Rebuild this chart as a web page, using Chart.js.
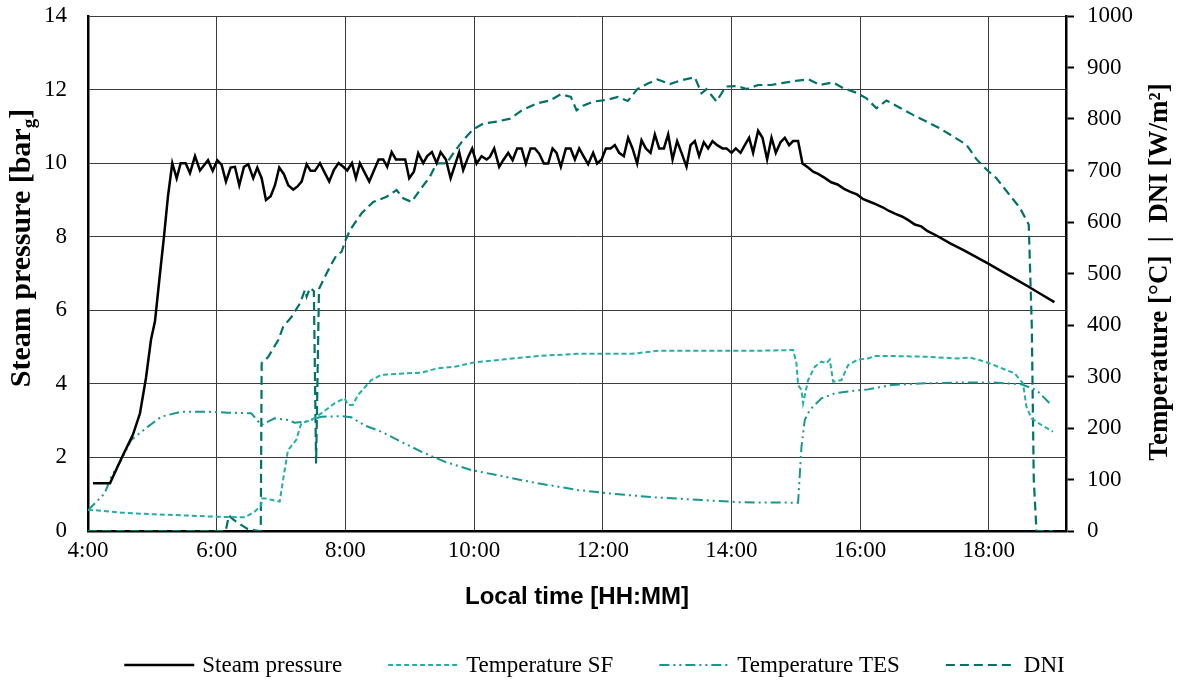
<!DOCTYPE html>
<html lang="en">
<head>
    <meta charset="UTF-8">
    <title>Steam pressure, temperatures and DNI</title>
    <script src="https://cdn.jsdelivr.net/npm/chart.js"></script>
    <style>
        html, body {
            margin: 0;
            padding: 0;
            background: #fff;
        }

        .chart-box {
            width: 1177px;
            height: 681px;
        }
    </style>
</head>
<body>
<div class="chart-box">
    <canvas id="plantChart" width="1177" height="681"></canvas>
</div>

<script>
    // times are local time in decimal hours
    const xTickHours = [4, 6, 8, 10, 12, 14, 16, 18];

    const timeSteam = [
        4.078, 4.342, 4.513, 4.699, 4.808, 4.901, 4.979, 5.041, 5.119, 5.181, 5.243, 5.310,
        5.378, 5.440, 5.518, 5.585, 5.663, 5.740, 5.865, 5.938, 6.009, 6.077,
        6.144, 6.217, 6.284, 6.351, 6.424, 6.491, 6.568, 6.631, 6.699, 6.766,
        6.839, 6.906, 6.972, 7.045, 7.112, 7.190, 7.252, 7.320, 7.398, 7.460,
        7.527, 7.605, 7.682, 7.749, 7.822, 7.895, 7.967, 8.029, 8.102, 8.164,
        8.226, 8.304, 8.371, 8.444, 8.517, 8.588, 8.650, 8.719, 8.786, 8.859,
        8.930, 8.992, 9.065, 9.132, 9.210, 9.272, 9.345, 9.418, 9.480, 9.562,
        9.636, 9.769, 9.831, 9.909, 9.971, 10.039, 10.117, 10.195, 10.246, 10.313,
        10.391, 10.453, 10.531, 10.599, 10.670, 10.739, 10.805, 10.878, 10.945, 11.012,
        11.085, 11.152, 11.220, 11.282, 11.349, 11.427, 11.500, 11.567, 11.634, 11.707,
        11.773, 11.851, 11.913, 11.982, 12.049, 12.122, 12.188, 12.255, 12.328, 12.395,
        12.463, 12.535, 12.603, 12.670, 12.743, 12.810, 12.877, 12.950, 13.017, 13.085,
        13.156, 13.225, 13.302, 13.365, 13.431, 13.498, 13.571, 13.638, 13.706, 13.778,
        13.862, 13.924, 14.002, 14.068, 14.142, 14.208, 14.275, 14.337, 14.415, 14.483,
        14.555, 14.623, 14.690, 14.763, 14.830, 14.897, 14.959, 15.036, 15.105, 15.192,
        15.270, 15.347, 15.45, 15.55, 15.65, 15.75, 15.85, 15.95, 16.05, 16.15,
        16.25, 16.35, 16.45, 16.55, 16.65, 16.75, 16.85, 16.95, 17.05, 17.2,
        17.4, 17.6, 17.8, 18.0, 18.2, 18.4, 18.6, 18.8, 19.02
    ];
    const steamPressure = [
        1.30, 1.30, 1.95, 2.62, 3.2, 4.16, 5.2, 5.7, 7.0, 8.0, 9.1, 10.0,
        9.59, 10.0, 10.0, 9.73, 10.19, 9.8, 10.08, 9.79, 10.08, 9.95,
        9.5, 9.88, 9.9, 9.4, 9.9, 9.97, 9.59, 9.88, 9.59, 9.0,
        9.1, 9.4, 9.88, 9.7, 9.4, 9.28, 9.36, 9.5, 9.97, 9.79,
        9.79, 10.0, 9.73, 9.5, 9.82, 10.0, 9.9, 9.8, 10.0, 9.59,
        10.0, 9.73, 9.5, 9.8, 10.1, 10.1, 9.9, 10.3, 10.1, 10.1,
        10.1, 9.59, 9.77, 10.27, 10.0, 10.19, 10.3, 10.0, 10.3, 10.1,
        9.59, 10.3, 9.81, 10.17, 10.4, 9.99, 10.19, 10.1, 10.17, 10.4,
        9.9, 10.08, 10.28, 10.08, 10.4, 10.4, 9.99, 10.4, 10.4, 10.26,
        9.99, 9.99, 10.4, 10.28, 9.9, 10.4, 10.4, 10.1, 10.4, 10.17,
        9.97, 10.28, 9.99, 10.1, 10.4, 10.4, 10.49, 10.28, 10.19, 10.69,
        10.4, 9.99, 10.62, 10.4, 10.28, 10.78, 10.4, 10.4, 10.78, 10.1,
        10.6, 10.28, 9.9, 10.49, 10.6, 10.19, 10.57, 10.4, 10.6, 10.49,
        10.4, 10.4, 10.28, 10.4, 10.28, 10.49, 10.69, 10.28, 10.88, 10.69,
        10.1, 10.69, 10.28, 10.57, 10.69, 10.49, 10.6, 10.6, 9.99, 9.88,
        9.77, 9.71, 9.6, 9.48, 9.42, 9.3, 9.22, 9.15, 9.02, 8.95,
        8.88, 8.8, 8.7, 8.62, 8.55, 8.45, 8.33, 8.28, 8.15, 8.02,
        7.82, 7.64, 7.45, 7.26, 7.06, 6.86, 6.66, 6.45, 6.22
    ];

    const timeSF = [
        4.0, 4.155, 4.517, 5.036, 5.554, 5.969, 6.435, 6.590, 6.693, 6.703,
        6.766, 6.979, 7.056, 7.108, 7.237, 7.314, 7.470, 7.625, 7.833, 7.988,
        8.040, 8.118, 8.195, 8.402, 8.557, 8.921, 9.179, 9.438, 9.698, 10.009,
        10.474, 10.992, 11.613, 12.007, 12.448, 12.861, 13.380, 13.897, 14.415, 14.959,
        15.011, 15.036, 15.089, 15.114, 15.192, 15.296, 15.400, 15.476, 15.529, 15.580,
        15.710, 15.813, 15.968, 16.124, 16.228, 16.487, 17.005, 17.522, 17.704, 17.937,
        18.144, 18.403, 18.532, 18.585, 18.663, 18.817, 18.998
    ];
    const tempSF = [
        41, 40, 35.6, 32.4, 30, 27.8, 26.5, 37.5, 50, 63,
        63, 57, 118, 157, 177, 209, 215.5, 228.5, 248, 257.6,
        244.7, 245, 264, 293, 303, 306, 307.5, 316, 319, 327.5,
        333.3, 339.8, 344, 344, 344, 350, 350, 350, 350, 351.5,
        325.6, 283.5, 273.8, 248, 293, 319, 329, 325.6, 333, 290,
        293, 322, 333, 335, 339.8, 339.8, 338.5, 335, 337, 329,
        319, 306, 286.7, 241.4, 218.8, 205.8, 192.9
    ];

    const timeTES = [
        4.0, 4.155, 4.259, 4.362, 4.517, 4.673, 4.932, 5.139, 5.450, 5.813,
        6.175, 6.537, 6.693, 6.901, 7.108, 7.212, 7.367, 7.625, 7.936, 8.091,
        8.299, 8.557, 8.921, 9.179, 9.542, 9.956, 10.474, 10.992, 11.613, 12.188,
        12.810, 13.535, 14.157, 15.036, 15.089, 15.140, 15.218, 15.400, 15.607, 15.866,
        16.124, 16.487, 17.005, 17.522, 18.041, 18.507, 18.739, 18.947
    ];
    const tempTES = [
        40, 60, 73, 105.5, 138, 177, 202.6, 222, 231.7, 231.7,
        229.8, 228.5, 205.8, 218.8, 215.5, 210.4, 212, 222, 223, 221,
        205, 193, 170, 154, 134.6, 118.4, 105.5, 92.6, 79.6, 71.8,
        65.4, 60.2, 55.7, 55, 163.8, 215.5, 235, 257.6, 267.3, 271.8,
        275, 283.5, 286.7, 288.4, 288.4, 284.8, 273.8, 248
    ];

    const timeDNI = [
        4.0, 6.14, 6.19, 6.26, 6.38, 6.48, 6.58, 6.66, 6.685, 6.699,
        6.801, 6.957, 7.035, 7.165, 7.294, 7.372, 7.398, 7.45, 7.51, 7.545,
        7.59, 7.682, 7.760, 7.864, 7.941, 8.004, 8.071, 8.253, 8.433, 8.641,
        8.796, 8.899, 9.029, 9.158, 9.314, 9.418, 9.573, 9.676, 9.831, 9.987,
        10.142, 10.355, 10.572, 10.743, 10.972, 11.178, 11.349, 11.505, 11.593, 11.696,
        11.862, 12.059, 12.235, 12.390, 12.538, 12.701, 12.849, 13.043, 13.214, 13.431,
        13.536, 13.613, 13.767, 13.913, 14.084, 14.239, 14.415, 14.612, 14.803, 15.000,
        15.202, 15.373, 15.580, 15.736, 15.944, 16.099, 16.254, 16.410, 16.616, 16.823,
        17.031, 17.238, 17.445, 17.653, 17.808, 17.964, 18.119, 18.326, 18.481, 18.621,
        18.668, 18.699, 18.741, 18.994
    ];
    const dni = [
        0, 0, 30, 22, 12, 4, 2, 0, 0, 326,
        338, 371, 397, 416, 442, 468, 455, 472, 466, 131,
        470, 494, 513, 536, 542, 565, 584, 617, 639, 649,
        662, 646, 639, 662, 688, 714, 714, 733, 759, 780,
        791, 795, 801, 817, 830, 836, 848, 843, 817, 826,
        834, 837, 843, 835, 858, 869, 877, 868, 875, 881,
        850, 858, 834, 863, 864, 858, 866, 866, 870, 874,
        877, 866, 871, 860, 851, 840, 821, 836, 822, 808,
        795, 782, 766, 750, 722, 702, 685, 652, 628, 595,
        400, 100, 0, 0
    ];

    const toPoints = (xs, ys) => xs.map((x, i) => ({x: x, y: ys[i]}));

    const serif = '"Liberation Serif", "Times New Roman", serif';
    const gridColor = '#3c3c3c';

    // axis titles + key drawn by hand (subscript g, dashed key samples)
    const titlesAndKey = {
        id: 'titlesAndKey',
        afterDraw(chart) {
            const ctx = chart.ctx;
            ctx.save();
            ctx.fillStyle = '#000';
            ctx.textBaseline = 'middle';
            ctx.textAlign = 'left';

            // left title
            const big = 'bold 30px ' + serif;
            const small = 'bold 19px ' + serif;
            ctx.save();
            ctx.translate(22, 248);
            ctx.rotate(-Math.PI / 2);
            ctx.font = big;
            const w1 = ctx.measureText('Steam pressure [bar').width;
            const w3 = ctx.measureText(']').width;
            ctx.font = small;
            const w2 = ctx.measureText('g').width;
            let x0 = -(w1 + w2 + w3) / 2;
            ctx.font = big;
            ctx.fillText('Steam pressure [bar', x0, 0);
            ctx.font = small;
            ctx.fillText('g', x0 + w1, 8);
            ctx.font = big;
            ctx.fillText(']', x0 + w1 + w2, 0);
            ctx.restore();

            // right title
            ctx.save();
            ctx.translate(1160, 272);
            ctx.rotate(-Math.PI / 2);
            ctx.font = 'bold 27px ' + serif;
            ctx.textAlign = 'center';
            ctx.fillText('Temperature [°C]  |  DNI [W/m²]', 0, 0);
            ctx.restore();

            // key
            const sampleW = 70, textGap = 8, itemGap = 46, keyY = 665;
            ctx.font = '23px ' + serif;
            const sets = chart.data.datasets;
            const widths = sets.map(ds => ctx.measureText(ds.label).width);
            const total = widths.reduce((s, w) => s + sampleW + textGap + w, 0) + itemGap * (sets.length - 1);
            let x = chart.width / 2 + 6 - total / 2;
            sets.forEach((ds, i) => {
                ctx.save();
                ctx.strokeStyle = ds.borderColor;
                ctx.lineWidth = ds.borderWidth;
                ctx.setLineDash(ds.borderDash || []);
                ctx.beginPath();
                ctx.moveTo(x, keyY);
                ctx.lineTo(x + sampleW, keyY);
                ctx.stroke();
                ctx.restore();
                ctx.fillText(ds.label, x + sampleW + textGap, keyY + 1);
                x += sampleW + textGap + widths[i] + itemGap;
            });
            ctx.restore();
        }
    };

    const noEdgePadding = s => {
        s.paddingTop = 0;
        s.paddingBottom = 0;
    };

    const ctx = document.getElementById('plantChart').getContext('2d');
    new Chart(ctx, {
        type: 'line',
        data: {
            datasets: [
                {
                    label: 'Steam pressure',
                    data: toPoints(timeSteam, steamPressure),
                    yAxisID: 'y',
                    borderColor: '#000000',
                    borderWidth: 2.5,
                    borderDash: []
                },
                {
                    label: 'Temperature SF',
                    data: toPoints(timeSF, tempSF),
                    yAxisID: 'y1',
                    borderColor: '#1fb0a8',
                    borderWidth: 2,
                    borderDash: [5, 3]
                },
                {
                    label: 'Temperature TES',
                    data: toPoints(timeTES, tempTES),
                    yAxisID: 'y1',
                    borderColor: '#17978f',
                    borderWidth: 2,
                    borderDash: [10, 4, 2, 4, 2, 4]
                },
                {
                    label: 'DNI',
                    data: toPoints(timeDNI, dni),
                    yAxisID: 'y1',
                    borderColor: '#00726c',
                    borderWidth: 2.2,
                    borderDash: [9, 5]
                }
            ]
        },
        options: {
            responsive: false,
            animation: false,
            layout: {padding: {top: 16, bottom: 60, left: 0, right: 0}},
            elements: {
                point: {radius: 0},
                line: {tension: 0, fill: false}
            },
            plugins: {
                legend: {display: false},
                tooltip: {enabled: false}
            },
            scales: {
                x: {
                    type: 'linear',
                    min: 4,
                    max: 19.2,
                    afterBuildTicks: s => { s.ticks = xTickHours.map(v => ({value: v})); },
                    afterFit: s => { s.height = 90; },
                    ticks: {
                        callback: v => v + ':00',
                        font: {family: serif, size: 23},
                        color: '#000',
                        padding: 6,
                        maxRotation: 0
                    },
                    grid: {color: gridColor, lineWidth: 1, drawTicks: false},
                    border: {display: true, color: '#000', width: 2.5},
                    title: {
                        display: true,
                        text: 'Local time [HH:MM]',
                        font: {family: '"Liberation Sans", Arial, sans-serif', size: 24, weight: 'bold'},
                        color: '#000',
                        padding: {top: 0, bottom: 9}
                    }
                },
                y: {
                    position: 'left',
                    min: 0,
                    max: 14,
                    afterFit: s => { s.width = 88; noEdgePadding(s); },
                    ticks: {
                        stepSize: 2,
                        font: {family: serif, size: 23},
                        color: '#000',
                        padding: 21
                    },
                    grid: {color: gridColor, lineWidth: 1, drawTicks: false},
                    border: {display: true, color: '#000', width: 2.5}
                },
                y1: {
                    position: 'right',
                    min: 0,
                    max: 1000,
                    afterFit: s => { s.width = 111; noEdgePadding(s); },
                    ticks: {
                        stepSize: 100,
                        callback: v => String(v),
                        font: {family: serif, size: 23},
                        color: '#000',
                        padding: 13
                    },
                    grid: {
                        drawOnChartArea: false,
                        drawTicks: true,
                        tickLength: 8,
                        tickColor: '#000',
                        tickWidth: 2
                    },
                    border: {display: true, color: '#000', width: 2.5}
                }
            }
        },
        plugins: [titlesAndKey]
    });
</script>
</body>
</html>
